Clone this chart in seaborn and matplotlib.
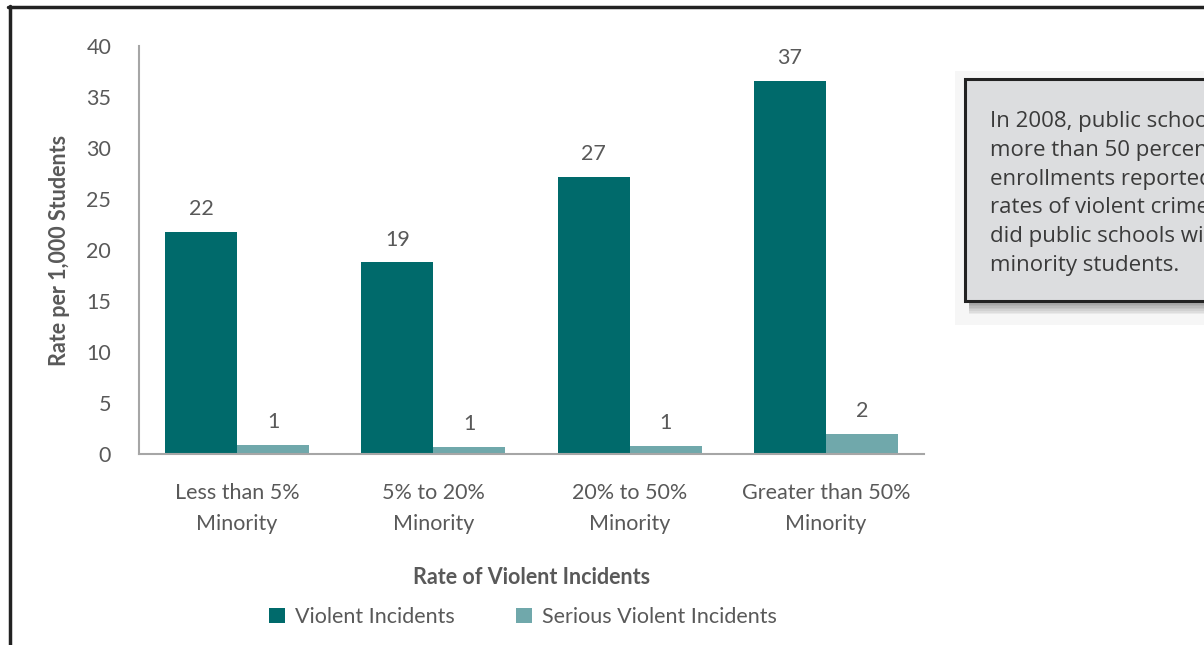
import matplotlib
matplotlib.use("Agg")
import matplotlib.pyplot as plt
import seaborn as sns
import pandas as pd
from matplotlib.patches import Rectangle, Patch
from matplotlib.lines import Line2D

categories = ["Less than 5%\nMinority", "5% to 20%\nMinority", "20% to 50%\nMinority", "Greater than 50%\nMinority"]
violent = [21.8, 18.8, 27.2, 36.6]
serious = [0.9, 0.7, 0.8, 2.0]
series_names = ["Violent Incidents", "Serious Violent Incidents"]
yticks = [0, 5, 10, 15, 20, 25, 30, 35, 40]
callout_lines = ["In 2008, public schools with", "more than 50 percent minority",
                 "enrollments reported higher", "rates of violent crimes than",
                 "did public schools with fewer", "minority students."]

df = pd.DataFrame({
    "category": categories * 2,
    "series": [series_names[0]] * 4 + [series_names[1]] * 4,
    "value": violent + serious,
})

sns.set_theme(style="white")
plt.rcParams['font.family'] = ['Lato', 'DejaVu Sans']
gray = "#595959"
colors = ["#006A6B", "#70A8AB"]
FS = 15.5

W, H = 1204, 645
fig = plt.figure(figsize=(W / 100, H / 100), dpi=100)
ax = fig.add_axes([139 / W, 1 - 454 / H, (924 - 139) / W, (454 - 46) / H])

sns.barplot(data=df, x="category", y="value", hue="series", palette=colors,
            width=0.735, saturation=1, ax=ax, legend=False, linewidth=0)

for cont in ax.containers:
    ax.bar_label(cont, labels=[f"{v:.0f}" for v in cont.datavalues], padding=9,
                 fontsize=FS, color=gray)

ax.set_ylim(0, 40)
ax.set_yticks(yticks)
ax.set_xlim(-0.5, 3.5)
ax.tick_params(axis="y", length=0, pad=20, labelsize=FS, labelcolor=gray)
ax.tick_params(axis="x", length=0, pad=21, labelsize=FS, labelcolor=gray)
for lab in ax.get_xticklabels():
    lab.set_linespacing(1.65)
for s in ["top", "right"]:
    ax.spines[s].set_visible(False)
for s in ["left", "bottom"]:
    ax.spines[s].set_color("#A6A6A6")
    ax.spines[s].set_linewidth(1.5)
ax.set_xlabel("Rate of Violent Incidents", fontsize=FS, fontweight="bold", color=gray)
ax.xaxis.set_label_coords(0.5, (454 - 577) / 408)
ax.xaxis.label.set_va("center")
ax.set_ylabel("Rate per 1,000 Students", fontsize=FS, fontweight="bold", color=gray)
ax.yaxis.set_label_coords((60 - 139) / 785, 0.5)
ax.yaxis.label.set_va("center")

handles = [Patch(facecolor=c, edgecolor="none") for c in colors]
fig.legend(handles, series_names, loc="center", bbox_to_anchor=(523 / W, 1 - 617 / H),
           ncol=2, frameon=False, fontsize=FS, labelcolor=gray, handlelength=0.75,
           handleheight=0.75, handletextpad=0.45, columnspacing=2.85)

# outer frame (partial)
fig.add_artist(Line2D([9.5 / W, 9.5 / W], [0, 1 - 6 / H], color="#222222", lw=2.5, transform=fig.transFigure))
fig.add_artist(Line2D([8 / W, 1], [1 - 6.5 / H, 1 - 6.5 / H], color="#222222", lw=2.5, transform=fig.transFigure))

# callout panel, shadow and box
fig.add_artist(Rectangle((955 / W, 1 - 325 / H), (W - 955) / W, (325 - 71) / H,
                         transform=fig.transFigure, facecolor="#F6F6F6", edgecolor="none"))
for i in range(8):
    off = 2 + i * 1.6
    fig.add_artist(Rectangle(((965 + 4) / W, 1 - (301 + off) / H), (W - 965) / W, (301 - 79) / H,
                             transform=fig.transFigure, facecolor="#000000", alpha=0.05,
                             edgecolor="none"))
fig.add_artist(Rectangle((965 / W, 1 - 301 / H), (W - 965 + 20) / W, (301 - 79) / H,
                         transform=fig.transFigure, facecolor="#DCDDDF", edgecolor="#222222",
                         linewidth=2.2, clip_on=False))
for i, line in enumerate(callout_lines):
    fig.text(990 / W, 1 - (122 + i * 28.6) / H, line, fontsize=16, color="#3A3A3A",
             family=["Open Sans", "DejaVu Sans"], va="center", ha="left")

fig.savefig("out.png", dpi=100)
